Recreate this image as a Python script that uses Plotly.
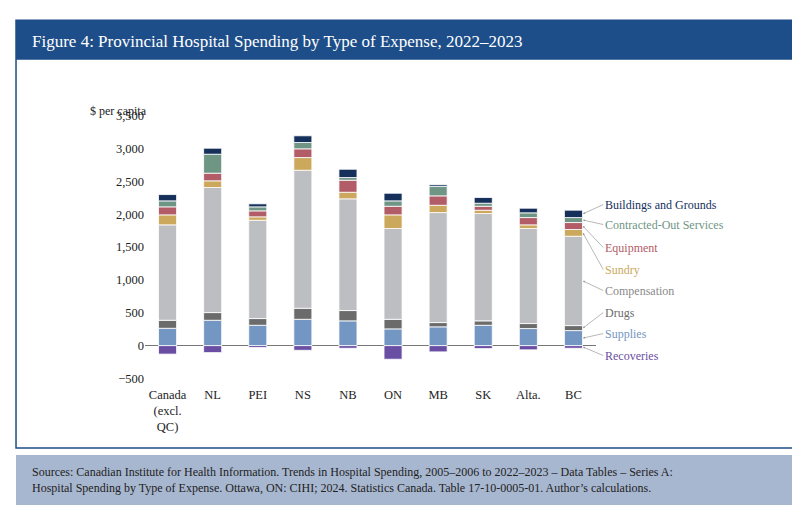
import plotly.graph_objects as go

provinces = ["Canada<br>(excl.<br>QC)", "NL", "PEI", "NS", "NB", "ON", "MB", "SK", "Alta.", "BC"]

recoveries = [-130, -107, -30, -72, -41, -208, -96, -46, -65, -41]
supplies = [263, 385, 309, 400, 376, 254, 285, 309, 259, 228]
drugs = [122, 117, 102, 168, 157, 146, 65, 67, 76, 76]
compensation = [1452, 1903, 1496, 2100, 1700, 1381, 1674, 1633, 1446, 1360]
sundry = [152, 102, 52, 193, 100, 208, 111, 50, 56, 102]
equipment = [122, 116, 91, 133, 183, 131, 143, 61, 111, 106]
contracted = [91, 289, 61, 96, 41, 82, 142, 46, 72, 76]
buildings = [96, 91, 46, 102, 126, 116, 26, 87, 70, 112]

series = [
    ("Recoveries", recoveries, "#6a4ea3"),
    ("Supplies", supplies, "#7496c2"),
    ("Drugs", drugs, "#6b6b6b"),
    ("Compensation", compensation, "#bdbec2"),
    ("Sundry", sundry, "#cba85c"),
    ("Equipment", equipment, "#b15c66"),
    ("Contracted-Out Services", contracted, "#6f9585"),
    ("Buildings and Grounds", buildings, "#15305b"),
]

serif = "Liberation Serif"
fig = go.Figure()
for name, vals, col in series:
    fig.add_trace(go.Bar(x=list(range(len(provinces))), y=vals, name=name,
                         marker=dict(color=col, line=dict(color="white", width=0.8)),
                         width=0.4))

# legend labels beside the last bar, arrows pointing to its segments
label_y = {"Buildings and Grounds": 2146, "Contracted-Out Services": 1842, "Equipment": 1492,
           "Sundry": 1157, "Compensation": 837, "Drugs": 502, "Supplies": 183, "Recoveries": -152}
last = len(provinces) - 1
base_pos = 0
base_neg = 0
mids = {}
for name, vals, col in series:
    v = vals[last]
    if v < 0:
        mids[name] = base_neg + v / 2
        base_neg += v
    else:
        mids[name] = base_pos + v / 2
        base_pos += v
text_col = {"Compensation": "#8a8a8a", "Drugs": "#6b6b6b"}
for name, vals, col in series:
    fig.add_annotation(x=last + 0.21, y=mids[name], xref="x", yref="y",
                       ax=last + 0.66, ay=label_y[name], axref="x", ayref="y",
                       text=name, xanchor="left", showarrow=True, arrowhead=2,
                       arrowsize=0.6, arrowwidth=0.7, arrowcolor="#999999",
                       font=dict(family=serif, size=12, color=text_col.get(name, col)))

fig.add_annotation(x=-0.126, y=0.993, xref="paper", yref="paper", xanchor="left", yanchor="middle",
                   showarrow=False, text="$ per capita", font=dict(family=serif, size=12, color="#222"))
fig.add_annotation(x=-0.255, y=1.246, xref="paper", yref="paper", xanchor="left", yanchor="middle",
                   showarrow=False, text="Figure 4: Provincial Hospital Spending by Type of Expense, 2022–2023",
                   font=dict(family=serif, size=17, color="white"))
fig.add_annotation(x=-0.255, y=-0.344, xref="paper", yref="paper", xanchor="left", yanchor="middle",
                   showarrow=False, align="left",
                   text="Sources: Canadian Institute for Health Information. Trends in Hospital Spending, 2005–2006 to 2022–2023 – Data Tables – Series A:<br>"
                        "Hospital Spending by Type of Expense. Ottawa, ON: CIHI; 2024. Statistics Canada. Table 17-10-0005-01. Author’s calculations.",
                   font=dict(family=serif, size=12, color="#222"))

fig.update_layout(
    barmode="relative",
    width=800, height=508,
    margin=dict(l=137, r=212, t=101, b=131),
    paper_bgcolor="white", plot_bgcolor="white",
    showlegend=False,
    font=dict(family=serif, size=12.5, color="#222"),
    xaxis=dict(tickmode="array", tickvals=list(range(len(provinces))), ticktext=provinces,
               range=[-0.5, 9.5], showgrid=False, zeroline=False, ticks="", automargin=False),
    yaxis=dict(range=[-600, 3600], tickvals=[-500, 0, 500, 1000, 1500, 2000, 2500, 3000, 3500],
               tickformat=",", showgrid=False, zeroline=True, zerolinecolor="#777",
               zerolinewidth=1.2, automargin=False),
    shapes=[
        dict(type="rect", xref="paper", yref="paper", x0=-0.286, x1=1.448, y0=-0.228, y1=1.322,
             line=dict(color="#1d4e89", width=1.5), fillcolor="rgba(0,0,0,0)", layer="below"),
        dict(type="rect", xref="paper", yref="paper", x0=-0.286, x1=1.448, y0=1.178, y1=1.322,
             line=dict(width=0), fillcolor="#1d4e89", layer="below"),
        dict(type="rect", xref="paper", yref="paper", x0=-0.286, x1=1.448, y0=-0.435, y1=-0.254,
             line=dict(width=0), fillcolor="#a8b7d0", layer="below"),
    ],
)

fig.write_html("out.html")
